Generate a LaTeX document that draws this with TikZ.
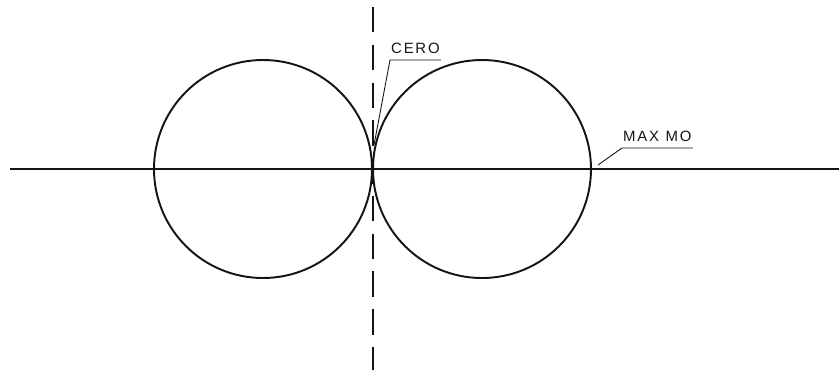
\documentclass[tikz,border=0pt]{standalone}
\usepackage{fontspec}
\setsansfont{Liberation Sans}
\usepackage{tikz}
\usetikzlibrary{positioning}
\definecolor{ink}{HTML}{141414}
\tikzset{
  lobe/.style={draw=ink, line width=1.1pt},
  axisline/.style={draw=ink, line width=0.9pt},
  nullaxis/.style={draw=ink, line width=0.6pt, dash pattern=on 14.5pt off 7pt},
  tag/.style={font=\sffamily\fontsize{8.5}{9}\selectfont, text=ink, anchor=south west,
              inner xsep=0.5pt, inner ysep=3.5pt},
  leader/.style={draw=ink, line width=0.5pt}
}

\begin{document}
\begin{tikzpicture}[x=0.02cm, y=-0.02cm]
  \useasboundingbox (0,0) rectangle (839,370);
  % ── axes ──
  \draw[axisline] (10,169) -- (839,169);
  \draw[nullaxis] (373,7) -- (373,370);
  % ── two lobes ──
  \draw[lobe] (263,169) circle (109);
  \draw[lobe] (482,169) circle (109);
  % ── labels + leaders ──
  \coordinate (zero) at (374,145);
  \coordinate (maxpt) at (598,165);
  \node[tag] (cero) at (390,60) {C\kern1pt E\kern1pt R\kern1pt O};
  \node[tag] (maxmo) at (622,148) {M\kern1pt A\kern1pt X\, M\kern1pt O};
  \draw[leader] (cero.south east) -- (cero.south west) -- (zero);
  \draw[leader] (maxmo.south east) -- (maxmo.south west) -- (maxpt);
\end{tikzpicture}
\end{document}
